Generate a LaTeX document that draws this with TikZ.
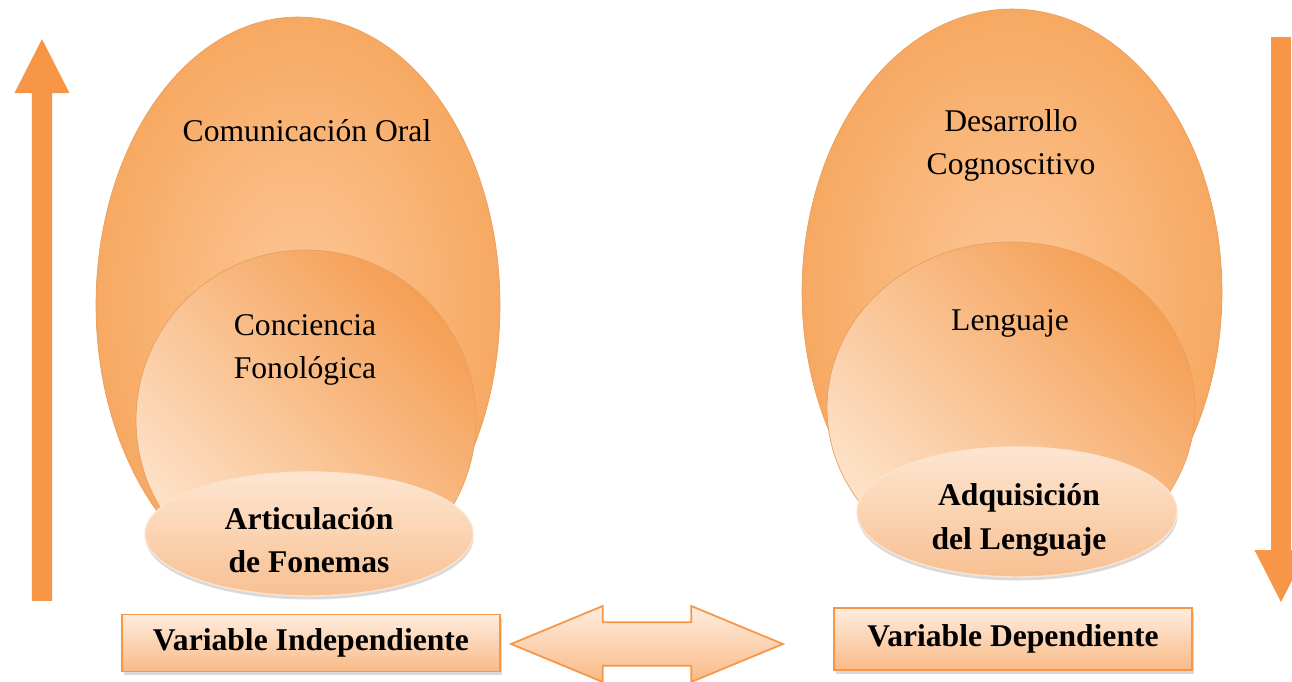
\documentclass[tikz,border=0pt]{standalone}
\usepackage{fontspec}
\setmainfont{Liberation Serif}
\usetikzlibrary{shapes.geometric,shapes.arrows,shadows,positioning}

\definecolor{Naranja}{HTML}{F79646}
\definecolor{Borde}{HTML}{E8A05E}
\definecolor{GrandeClaro}{HTML}{FCC797}
\definecolor{GrandeOscuro}{HTML}{F7A962}
\definecolor{MedioClaro}{HTML}{FDE3CA}
\definecolor{MedioOscuro}{HTML}{F59F55}
\definecolor{BaseClaro}{HTML}{FDE6D1}
\definecolor{BaseOscuro}{HTML}{F8C092}
\definecolor{CajaClaro}{HTML}{FEEDE0}
\definecolor{CajaOscuro}{HTML}{F9BA86}

\newcommand{\Letra}{\fontsize{18}{24.5}\selectfont}
\newcommand{\Capa}[5]{
\node[#2,minimum width=#4,minimum height=#5] (#1) at (#3) {};
}
\newcommand{\Rotulo}[3]{
\node[align=center] (#1) at (#2) {#3};
}
\tikzset{every node/.style={font=\Letra}}
\tikzset{Grande/.style={ellipse,inner sep=0pt,draw=Borde,line width=0.4pt,inner color=GrandeClaro,outer color=GrandeOscuro}}
\tikzset{Medio/.style={ellipse,inner sep=0pt,draw=Borde,line width=0.4pt,top color=MedioOscuro,bottom color=MedioClaro,shading angle=-45}}
\tikzset{Base/.style={ellipse,inner sep=0pt,draw=white!55!BaseOscuro,line width=0.8pt,top color=BaseClaro,bottom color=BaseOscuro,drop shadow={shadow xshift=0.3pt,shadow yshift=-2pt,opacity=0.3}}}
\tikzset{Variable/.style={rectangle,draw=Naranja,line width=1pt,top color=CajaClaro,bottom color=CajaOscuro,font=\Letra\bfseries,drop shadow={shadow xshift=1pt,shadow yshift=-2pt,opacity=0.3}}}
\tikzset{Flecha/.style={single arrow,fill=Naranja,inner xsep=0pt,inner ysep=0.14cm,single arrow tip angle=54}}
\tikzset{Doble/.style={double arrow,draw=Naranja,line width=1pt,inner xsep=0pt,inner ysep=0.32cm,top color=CajaClaro,bottom color=CajaOscuro,double arrow tip angle=45}}

\begin{document}
\begin{tikzpicture}[x=0.02cm,y=-0.02cm]%[every node/.style={font=\tiny}]

\useasboundingbox (0,0) rectangle (1292,682);

\node[Flecha,minimum height=11.24cm,minimum width=1.1cm,rotate=90] (Sube) at (42,330) {};

\node[Flecha,minimum height=11.3cm,minimum width=1.06cm,rotate=-90] (Baja) at (1281,310) {};

\Capa{CO}{Grande}{298,305}{8.08cm}{11.52cm}
\Rotulo{tCO}{307,131}{Comunicación Oral}

\Capa{CF}{Medio}{306,420}{6.8cm}{6.8cm}
\Rotulo{tCF}{305,350}{Conciencia\\Fonológica}

\Capa{AF}{Base}{309,534}{6.56cm}{2.48cm}
\Rotulo{tAF}{309,540}{\bfseries Articulación\\\bfseries de Fonemas}

\Capa{DC}{Grande}{1012,292}{8.4cm}{11.32cm}
\Rotulo{tDC}{1011,145}{Desarrollo\\Cognoscitivo}

\Capa{LE}{Medio}{1011,408}{7.36cm}{6.64cm}
\Rotulo{tLE}{1010,323}{Lenguaje}

\Capa{AL}{Base}{1017,512}{6.4cm}{2.6cm}
\Rotulo{tAL}{1019,520}{\bfseries Adquisición\\\bfseries del Lenguaje}

\node[Variable,minimum width=7.56cm,minimum height=1.14cm] (VI) at (311,643) {Variable Independiente};

\node[Variable,minimum width=7.16cm,minimum height=1.24cm] (VD) at (1013,639) {Variable Dependiente};

\node[Doble,minimum height=5.44cm,minimum width=1.52cm] (Relacion) at (647,644) {};

\end{tikzpicture}
\end{document}
